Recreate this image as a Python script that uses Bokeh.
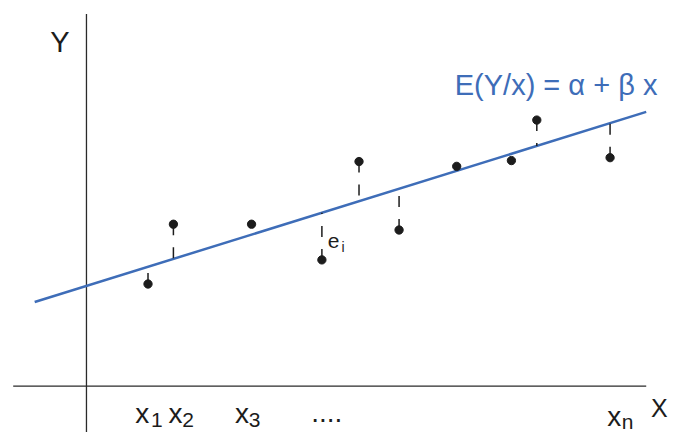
from bokeh.plotting import figure
from bokeh.models import Range1d
from bokeh.core.properties import value
from bokeh.embed import file_html
from bokeh.resources import INLINE

# Observations (diagram units, origin at the axes crossing)
obs_x = [63, 89, 169, 241, 279, 320, 379, 435, 461, 536]
obs_y = [106, 168, 168, 131, 233, 162, 228, 234, 276, 237]
show_residual = [True, True, False, True, True, True, False, False, True, True]

# Regression line E(Y/x) = alpha + beta x
alpha = 104.0
beta = 0.315
line_x = [-53, 573]

# Axis extents
x_axis_extent = [-75, 573]
y_axis_extent = [-60, 386]

tick_labels = ["x", "x", "x", "x"]
tick_subs = ["1", "2", "3", "n"]
tick_pos = [50, 84, 152, 533]
tick_base = [-28, -28, -28, -31]
sub_pos = [66, 98, 166, 548]
sub_base = [-35, -35, -35, -37]
dots_label = "...."
dots_pos = 230

BLUE = "#3e6db8"
INK = "#1c1c1c"
FONT = value("Liberation Sans")

p = figure(width=676, height=432, output_backend="svg", toolbar_location=None,
           x_range=Range1d(-88, 604), y_range=Range1d(-48, 400),
           x_axis_location=None, y_axis_location=None, min_border=0)
p.grid.visible = False
p.outline_line_color = None
p.background_fill_color = "white"
p.border_fill_color = "white"

# Axes of the diagram
p.line(x_axis_extent, [0, 0], line_color="#2a2a2a", line_width=1.3)
p.line([0, 0], y_axis_extent, line_color="#2a2a2a", line_width=1.3)

# Regression line
p.line(line_x, [alpha + beta * v for v in line_x], line_color=BLUE, line_width=2.5)

# Residuals (dashed, from point to the line)
rx = [x for x, s in zip(obs_x, show_residual) if s]
ry = [y for y, s in zip(obs_y, show_residual) if s]
ry_fit = [alpha + beta * x for x in rx]
p.segment(x0=rx, y0=ry, x1=rx, y1=ry_fit, line_color=INK, line_width=1.5,
          line_dash="11 12")

# Observations
p.scatter(obs_x, obs_y, size=8.3, fill_color=INK, line_color=INK)

# Axis names
p.text(x=[-37], y=[357], text=["Y"], text_font=FONT, text_font_size="29px",
       text_color=INK, text_baseline="alphabetic", text_align="left")
p.text(x=[578], y=[-23], text=["X"], text_font=FONT, text_font_size="25px",
       text_color=INK, text_baseline="alphabetic", text_align="left")

# Formula
p.text(x=[377], y=[312], text=["E(Y/x) = \u03b1 + \u03b2 x"], text_font=FONT,
       text_font_size="29px", text_color=BLUE, text_baseline="alphabetic",
       text_align="left")

# Residual label e_i
p.text(x=[247], y=[151], text=["e"], text_font=FONT, text_font_size="21px",
       text_color=INK, text_baseline="alphabetic", text_align="left")
p.text(x=[261], y=[144], text=["i"], text_font=FONT, text_font_size="14px",
       text_color=INK, text_baseline="alphabetic", text_align="left")

# Tick labels x_1, x_2, x_3, ..., x_n
p.text(x=tick_pos, y=tick_base, text=tick_labels, text_font=FONT,
       text_font_size="28px", text_color=INK, text_baseline="alphabetic",
       text_align="left")
p.text(x=sub_pos, y=sub_base, text=tick_subs, text_font=FONT,
       text_font_size="21px", text_color=INK, text_baseline="alphabetic",
       text_align="left")
p.text(x=[dots_pos], y=[-27], text=[dots_label], text_font=FONT,
       text_font_size="28px", text_color=INK, text_baseline="alphabetic",
       text_align="left")

open("out.html", "w").write(file_html(p, INLINE))
